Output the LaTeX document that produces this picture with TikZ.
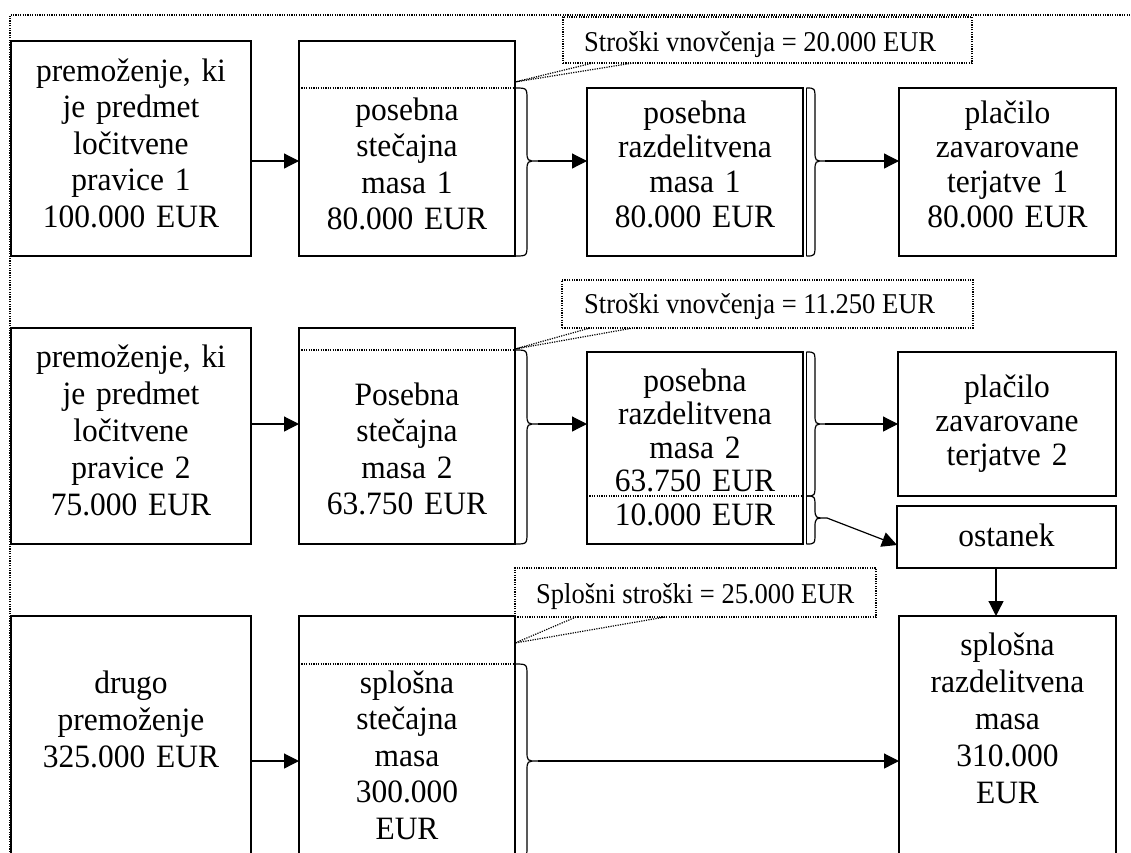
\documentclass[tikz,border=0pt]{standalone}
\usepackage{fontspec}
\setmainfont{Liberation Serif}[FakeStretch=0.965]
\newfontfamily\cfont{Liberation Serif}[FakeStretch=0.925]
\usetikzlibrary{arrows.meta}
\tikzset{
 boxst/.style={draw, line width=1.3pt, inner sep=0pt, outer sep=0pt, anchor=north west},
 callst/.style={draw, dash pattern=on 1.2pt off 1.2pt, line width=1.2pt, inner sep=0pt, outer sep=0pt, anchor=north west},
 dotline/.style={dash pattern=on 1.2pt off 1.2pt, line width=1.2pt},
 arr/.style={-{Triangle[length=15pt,width=15pt]}, line width=1.2pt},
 bracest/.style={line width=1.2pt},
 txt/.style={font=\fontsize{32.6pt}{#1pt}\selectfont, align=center, text width=240pt, inner sep=0pt, anchor=base},
 txt/.default=36.5,
 ctxt/.style={font=\cfont\fontsize{28.7pt}{30pt}\selectfont, inner sep=0pt, anchor=base west},
}
\newcommand{\mybrace}[6]{\draw[bracest] (#1,#4) .. controls (#2,#4) .. (#2,#4+12) -- (#2,#5-10) .. controls (#2,#5) .. (#3,#5) .. controls (#2,#5) .. (#2,#5+10) -- (#2,#6-12) .. controls (#2,#6) .. (#1,#6);}
\begin{document}
\begin{tikzpicture}[x=1pt,y=-1pt]
\useasboundingbox (0,0) rectangle (1131,852);
\clip (0,0) rectangle (1131,852);
\fill[white] (0,0) rectangle (1131,852);
\draw[dotline] (10,852) -- (10,15) -- (1131,15);

% ---------- row 1
\node[boxst, minimum width=240pt, minimum height=215pt] (A1) at (11,41) {};
\node[boxst, minimum width=216pt, minimum height=215pt] (B1) at (299,41) {};
\node[boxst, minimum width=216pt, minimum height=168pt] (C1) at (587,88) {};
\node[boxst, minimum width=217pt, minimum height=168pt] (D1) at (899,88) {};
\node[callst, minimum width=409pt, minimum height=46pt] (K1) at (563,17) {};

\node[txt] (tA1) at (131,81) {premoženje, ki\\je predmet\\ločitvene\\pravice 1\\100.000 EUR};
\node[txt] (tB1) at (407,120) {posebna\\stečajna\\masa 1\\80.000 EUR};
\node[txt=34.7] (tC1) at (695,123) {posebna\\razdelitvena\\masa 1\\80.000 EUR};
\node[txt=34.7] (tD1) at (1007.5,123) {plačilo\\zavarovane\\terjatve 1\\80.000 EUR};
\node[ctxt] (tK1) at (584,51) {Stroški vnovčenja = 20.000 EUR};

\draw[dotline] (593,63) -- (515,82) -- (633,63);
\draw[dotline] (B1.west |- 0,88) -- (B1.east |- 0,88);
\mybrace{515}{527}{538}{88}{161}{256}
\coordinate (b1t) at (538,161);
\draw[line width=0.8pt] (806.3,88) -- (806.3,256);
\mybrace{806.3}{815}{825}{88}{161}{256}
\coordinate (c1t) at (825,161);

\draw[arr] (A1.east |- b1t) -- (B1.west |- b1t);
\draw[arr] (b1t) -- (C1.west |- b1t);
\draw[arr] (c1t) -- (D1.west |- c1t);

% ---------- row 2
\node[boxst, minimum width=240pt, minimum height=216pt] (A2) at (11,328) {};
\node[boxst, minimum width=216pt, minimum height=216pt] (B2) at (299,328) {};
\node[boxst, minimum width=216pt, minimum height=192pt] (C2) at (587,352) {};
\node[boxst, minimum width=218pt, minimum height=144pt] (D2) at (898,352) {};
\node[boxst, minimum width=219pt, minimum height=62pt] (OS) at (897,506) {};
\node[callst, minimum width=411pt, minimum height=48pt] (K2) at (562,280) {};

\node[txt=37] (tA2) at (131,367) {premoženje, ki\\je predmet\\ločitvene\\pravice 2\\75.000 EUR};
\node[txt] (tB2) at (407,405) {Posebna\\stečajna\\masa 2\\63.750 EUR};
\node[txt=33.5] (tC2) at (695,391) {posebna\\razdelitvena\\masa 2\\63.750 EUR};
\node[txt] (tC2b) at (695,525) {10.000 EUR};
\node[txt=34] (tD2) at (1007,397) {plačilo\\zavarovane\\terjatve 2};
\node[txt] (tOS) at (1006.5,546) {ostanek};
\node[ctxt] (tK2) at (584,313) {Stroški vnovčenja = 11.250 EUR};

\draw[dotline] (590,328) -- (515,349) -- (633,328);
\draw[dotline] (B2.west |- 0,350) -- (B2.east |- 0,350);
\draw[dotline] (C2.west |- 0,496) -- (C2.east |- 0,496);
\mybrace{515}{527}{538}{350}{424}{544}
\coordinate (b2t) at (538,424);
\draw[line width=0.8pt] (806.3,352) -- (806.3,544);
\mybrace{806.3}{815}{825}{352}{424}{496}
\coordinate (c2u) at (825,424);
\mybrace{806.3}{815}{827}{496}{518}{544}
\coordinate (c2l) at (827,518);

\draw[arr] (A2.east |- b2t) -- (B2.west |- b2t);
\draw[arr] (b2t) -- (C2.west |- b2t);
\draw[arr] (c2u) -- (D2.west |- c2u);
\draw[arr] (c2l) -- ([yshift=-8pt]OS.west);

% ---------- row 3
\node[boxst, minimum width=240pt, minimum height=242pt] (A3) at (11,616) {};
\node[boxst, minimum width=216pt, minimum height=242pt] (B3) at (299,616) {};
\node[boxst, minimum width=217pt, minimum height=242pt] (E3) at (899,616) {};
\node[callst, minimum width=361pt, minimum height=49pt] (K3) at (515,568) {};

\node[txt=37] (tA3) at (131,693) {drugo\\premoženje\\325.000 EUR};
\node[txt] (tB3) at (407,693) {splošna\\stečajna\\masa\\300.000\\EUR};
\node[txt=37] (tE3) at (1007.5,655) {splošna\\razdelitvena\\masa\\310.000\\EUR};
\node[ctxt] (tK3) at (536,603) {Splošni stroški = 25.000 EUR};

\draw[dotline] (576,617) -- (515,643) -- (665,617);
\draw[dotline] (B3.west |- 0,664) -- (B3.east |- 0,664);
\mybrace{515}{527}{538}{664}{761}{858}
\coordinate (b3t) at (538,761);

\draw[arr] (A3.east |- b3t) -- (B3.west |- b3t);
\draw[arr] (b3t) -- (E3.west |- b3t);
\draw[arr] ([xshift=-10.5pt]OS.south) -- ([xshift=-10.5pt]OS.south |- E3.north);
\end{tikzpicture}
\end{document}
